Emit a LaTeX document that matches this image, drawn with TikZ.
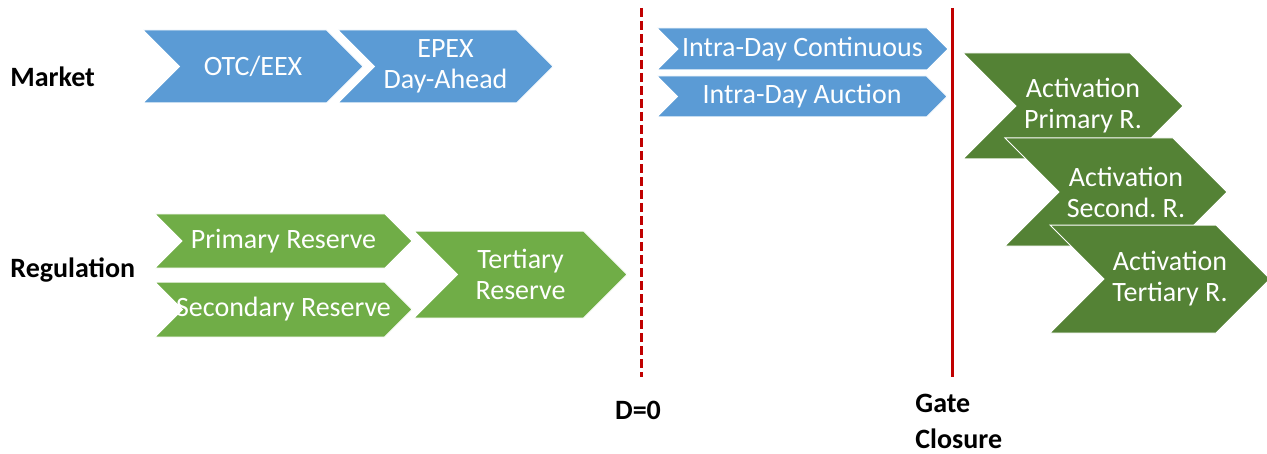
\documentclass[tikz,border=0pt]{standalone}
\usepackage{fontspec}
\setmainfont{Carlito}
\usetikzlibrary{shapes.symbols}

\definecolor{mktblue}{HTML}{5B9BD5}
\definecolor{reggreen}{HTML}{70AD47}
\definecolor{actgreen}{HTML}{548235}
\definecolor{gatered}{HTML}{C00000}

% text line nudged right, without widening the shape
\newcommand{\actline}[1]{\makebox[0pt]{\hspace{10pt}#1}}

\begin{document}
\frenchspacing
\begin{tikzpicture}[x=0.5pt,y=-0.5pt,
chev/.style={signal,signal to=east,signal from=west,signal pointer angle=90,
  draw=white,line width=0.5pt,text=white,inner sep=0pt,align=center,
  font=\fontsize{14}{15.5}\selectfont},
rowlabel/.style={anchor=west,inner sep=0pt,font=\fontsize{14}{17}\selectfont\bfseries},
timeline/.style={gatered,line width=1.5pt}]
\useasboundingbox (0,0) rectangle (1267,454);

\node[rowlabel] (market) at (10,77) {Market};
\node[rowlabel] (regulation) at (10,270) {Regulation};

\node[chev,fill=mktblue,minimum width=110pt,minimum height=36.5pt] (otc) at (253,66.5) {OTC/EEX};
\node[chev,fill=mktblue,minimum width=107.5pt,minimum height=36.5pt] (epex) at (445.5,66.5) {EPEX\\Day-Ahead};

\node[chev,fill=reggreen,minimum width=128.5pt,minimum height=27pt] (prim) at (283.5,241) {Primary Reserve};
\node[chev,fill=reggreen,minimum width=128.5pt,minimum height=27.5pt] (sec) at (283.5,309.5) {\makebox[0pt]{Secondary Reserve}};
\node[chev,fill=reggreen,minimum width=106.5pt,minimum height=43.5pt] (tert) at (520.5,274.5) {Tertiary\\Reserve};

\node[chev,fill=mktblue,minimum width=145.5pt,minimum height=21pt] (idc) at (802.5,49) {Intra-Day Continuous};
\node[chev,fill=mktblue,minimum width=145pt,minimum height=20.5pt] (ida) at (802,96.5) {Intra-Day Auction};

\node[chev,fill=actgreen,minimum width=110pt,minimum height=53pt] (actprim) at (1073,106) {\actline{Activation}\\\actline{Primary R.}};
\node[chev,fill=actgreen,minimum width=111pt,minimum height=54pt] (actsec) at (1116,192) {\actline{Activation}\\\actline{Second. R.}};
\node[chev,fill=actgreen,minimum width=110pt,minimum height=54pt] (actter) at (1160,279) {\actline{Activation}\\\actline{Tertiary R.}};

\coordinate (dtop) at (641,8);
\coordinate (dbot) at (641,377);
\draw[timeline,dash pattern=on 4.5pt off 2pt] (dtop) -- (dbot);
\node[font=\fontsize{14}{17}\selectfont\bfseries] (dlabel) at (638,410) {D=0};

\coordinate (gtop) at (952,8);
\coordinate (gbot) at (952,377);
\draw[timeline] (gtop) -- (gbot);
\node[anchor=north west,align=left,inner sep=0pt,font=\fontsize{14}{18}\selectfont\bfseries] (glabel) at (915,394) {Gate\\Closure};

\end{tikzpicture}
\end{document}
